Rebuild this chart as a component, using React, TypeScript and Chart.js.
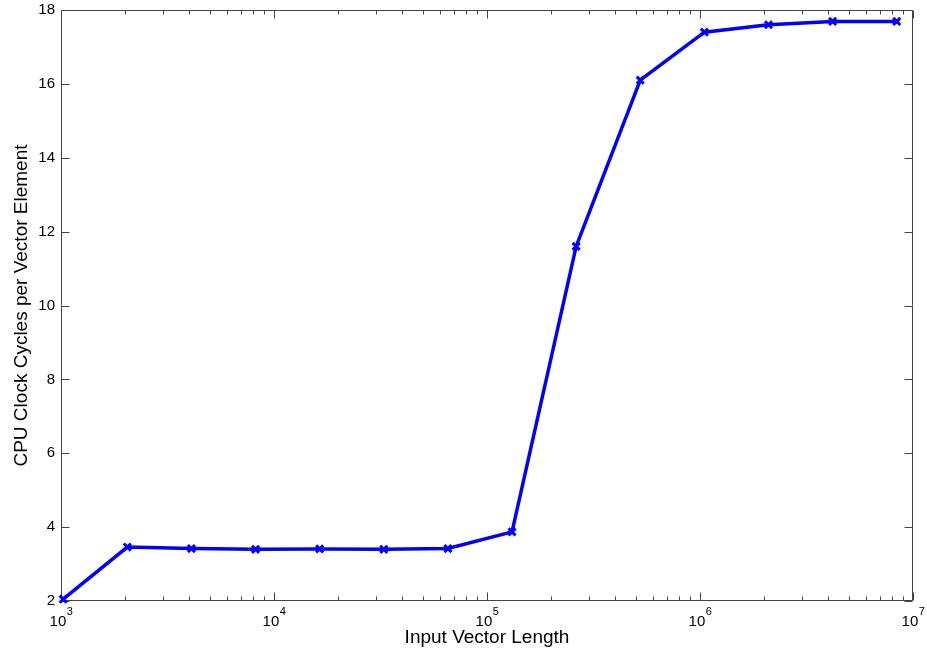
import React, { useEffect, useRef } from "react";
import { Chart, registerables } from "chart.js";

Chart.register(...registerables);

const vectorLengths = [1024, 2048, 4096, 8192, 16384, 32768, 65536, 131072, 262144, 524288, 1048576, 2097152, 4194304, 8388608];
const cyclesPerElement = [2.05, 3.46, 3.42, 3.4, 3.41, 3.4, 3.42, 3.87, 11.6, 16.1, 17.4, 17.6, 17.69, 17.69];
const yTickValues = [2, 4, 6, 8, 10, 12, 14, 16, 18];
const xTickExponents = [3, 4, 5, 6, 7];
const xTitle = "Input Vector Length";
const yTitle = "CPU Clock Cycles per Vector Element";

const FONT = "'Liberation Sans', Arial, sans-serif";

const framePlugin = {
  id: "matlabFrame",
  beforeDatasetsDraw(chart: any) {
    const { ctx, chartArea } = chart;
    const xs = chart.scales.x;
    const ys = chart.scales.y;
    const L = Math.round(chartArea.left) + 0.5;
    const R = Math.round(chartArea.right) - 0.5;
    const T = Math.round(chartArea.top) + 0.5;
    const B = Math.round(chartArea.bottom) - 0.5;
    ctx.save();
    ctx.strokeStyle = "#444444";
    ctx.lineWidth = 1;
    ctx.beginPath();
    ctx.rect(L, T, R - L, B - T);
    ctx.stroke();
    ctx.beginPath();
    for (let i = 0; i < xTickExponents.length; i++) {
      const p = xTickExponents[i];
      const base = Math.pow(10, p);
      const px = Math.round(xs.getPixelForValue(base)) + 0.5;
      ctx.moveTo(px, B);
      ctx.lineTo(px, B - 8);
      ctx.moveTo(px, T);
      ctx.lineTo(px, T + 8);
      if (i < xTickExponents.length - 1) {
        for (let m = 2; m <= 9; m++) {
          const mx = Math.round(xs.getPixelForValue(base * m)) + 0.5;
          ctx.moveTo(mx, B);
          ctx.lineTo(mx, B - 4);
          ctx.moveTo(mx, T);
          ctx.lineTo(mx, T + 4);
        }
      }
    }
    for (const v of yTickValues) {
      const py = Math.round(ys.getPixelForValue(v)) + 0.5;
      ctx.moveTo(L, py);
      ctx.lineTo(L + 8, py);
      ctx.moveTo(R, py);
      ctx.lineTo(R - 8, py);
    }
    ctx.stroke();

    ctx.fillStyle = "#000000";
    ctx.textBaseline = "alphabetic";
    ctx.textAlign = "left";
    for (const p of xTickExponents) {
      const px = xs.getPixelForValue(Math.pow(10, p));
      ctx.font = `15px ${FONT}`;
      const baseW = ctx.measureText("10").width;
      ctx.font = `11px ${FONT}`;
      const expW = ctx.measureText(String(p)).width;
      const start = px - (baseW + expW) / 2;
      ctx.font = `15px ${FONT}`;
      ctx.fillText("10", start, B + 25.5);
      ctx.font = `11px ${FONT}`;
      ctx.fillText(String(p), start + baseW + 0.5, B + 14.5);
    }
    ctx.restore();
  },
};

export default function App() {
  const ref = useRef<HTMLCanvasElement | null>(null);
  useEffect(() => {
    if (!ref.current) return;
    const chart = new Chart(ref.current, {
      type: "line",
      data: {
        datasets: [
          {
            data: vectorLengths.map((x, i) => ({ x, y: cyclesPerElement[i] })),
            borderColor: "#0000ff",
            backgroundColor: "#0000ff",
            borderWidth: 3.5,
            pointStyle: "crossRot",
            pointRadius: 5,
            pointBorderWidth: 3,
            pointBorderColor: "#0000ff",
            tension: 0,
            fill: false,
            clip: false as any,
          },
        ],
      },
      options: {
        animation: false,
        responsive: true,
        maintainAspectRatio: false,
        layout: { padding: { top: 10, right: 14, left: 0, bottom: 0 } },
        plugins: { legend: { display: false }, tooltip: { enabled: false } },
        scales: {
          x: {
            type: "logarithmic",
            min: 1000,
            max: 10000000,
            grid: { display: false, drawTicks: false },
            border: { display: false },
            ticks: { display: false },
            afterFit(scale: any) {
              scale.height = 55;
              scale.paddingLeft = 0;
              scale.paddingRight = 0;
            },
            title: {
              display: true,
              text: xTitle,
              color: "#000000",
              font: { family: FONT, size: 19 },
              padding: { top: 0, bottom: 7 },
            },
          },
          y: {
            type: "linear",
            min: 2,
            max: 18,
            grid: { display: false, drawTicks: false },
            border: { display: false },
            afterBuildTicks(scale: any) {
              scale.ticks = yTickValues.map((v) => ({ value: v }));
            },
            afterFit(scale: any) {
              scale.width = 61;
              scale.paddingTop = 0;
              scale.paddingBottom = 0;
            },
            ticks: {
              color: "#000000",
              font: { family: FONT, size: 15 },
              padding: 6,
            },
            title: {
              display: true,
              text: yTitle,
              color: "#000000",
              font: { family: FONT, size: 19 },
              padding: { top: 10, bottom: 0 },
            },
          },
        },
      },
      plugins: [framePlugin],
    });
    return () => chart.destroy();
  }, []);
  return (
    <div style={{ position: "fixed", left: 0, top: 0, width: 927, height: 656, background: "#ffffff" }}>
      <canvas ref={ref} />
    </div>
  );
}
